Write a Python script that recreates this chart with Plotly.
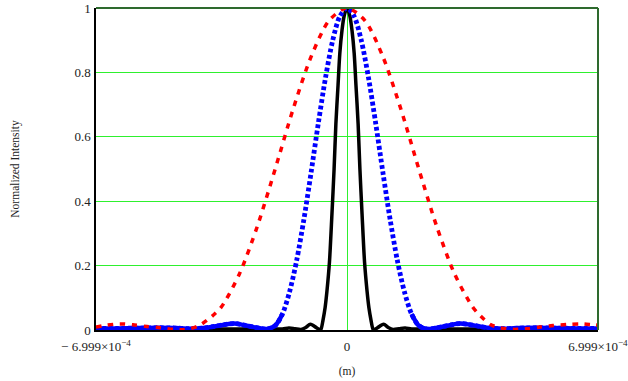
import plotly.graph_objects as go

# ---- data (x in metres, y normalized intensity) ----
x_black = [-7.0e-4, -6.0e-4, -5.0e-4, -4.0e-4, -3.0e-4, -2.4e-4, -2.05e-4, -1.8e-4, -1.62e-4,
           -1.45e-4, -1.28e-4, -1.15e-4, -1.02e-4, -8.5e-5, -7.5e-5, -7.2e-5, -6.7e-5, -6.1e-5,
           -5.6e-5, -4.9e-5, -4.2e-5, -3.6e-5, -3.1e-5, -2.5e-5, -2.0e-5, -1.4e-5, -0.8e-5, 0.0,
           0.8e-5, 1.4e-5, 2.0e-5, 2.5e-5, 3.1e-5, 3.6e-5, 4.2e-5, 4.9e-5, 5.6e-5, 6.1e-5, 6.7e-5,
           7.2e-5, 7.5e-5, 8.5e-5, 1.02e-4, 1.15e-4, 1.28e-4, 1.45e-4, 1.62e-4, 1.8e-4, 2.05e-4,
           2.4e-4, 3.0e-4, 4.0e-4, 5.0e-4, 6.0e-4, 7.0e-4]
y_black = [0.003, 0.003, 0.003, 0.003, 0.003, 0.004, 0.003, 0.003, 0.006,
           0.004, 0.002, 0.008, 0.018, 0.007, 0.0, 0.004, 0.03, 0.07,
           0.12, 0.21, 0.36, 0.50, 0.64, 0.76, 0.86, 0.93, 0.975, 1.0,
           0.975, 0.93, 0.86, 0.76, 0.64, 0.50, 0.36, 0.21, 0.12, 0.07, 0.03,
           0.004, 0.0, 0.007, 0.018, 0.008, 0.002, 0.004, 0.006, 0.003, 0.003,
           0.004, 0.003, 0.003, 0.003, 0.003, 0.003]

x_blue = [-7.0e-4, -6.4e-4, -5.8e-4, -5.3e-4, -4.8e-4, -4.4e-4, -4.0e-4, -3.7e-4, -3.4e-4,
          -3.15e-4, -2.9e-4, -2.6e-4, -2.23e-4, -2.0e-4, -1.8e-4, -1.6e-4, -1.4e-4, -1.2e-4,
          -1.0e-4, -0.8e-4, -0.6e-4, -0.4e-4, -0.2e-4, 0.0, 0.2e-4, 0.4e-4, 0.6e-4, 0.8e-4,
          1.0e-4, 1.2e-4, 1.4e-4, 1.6e-4, 1.8e-4, 2.0e-4, 2.23e-4, 2.6e-4, 2.9e-4, 3.15e-4,
          3.4e-4, 3.7e-4, 4.0e-4, 4.4e-4, 4.8e-4, 5.3e-4, 5.8e-4, 6.4e-4, 7.0e-4]
y_blue = [0.005, 0.005, 0.006, 0.007, 0.006, 0.004, 0.006, 0.011, 0.017,
          0.020, 0.016, 0.009, 0.003, 0.014, 0.050, 0.119, 0.218, 0.345,
          0.490, 0.642, 0.783, 0.899, 0.974, 1.0, 0.974, 0.899, 0.783, 0.642,
          0.490, 0.345, 0.218, 0.119, 0.050, 0.014, 0.003, 0.009, 0.016, 0.020,
          0.017, 0.011, 0.006, 0.004, 0.006, 0.007, 0.006, 0.005, 0.005]

x_red = [-7.0e-4, -6.7e-4, -6.33e-4, -5.97e-4, -5.58e-4, -5.2e-4, -4.85e-4, -4.6e-4, -4.35e-4,
         -4.1e-4, -3.74e-4, -3.5e-4, -3.0e-4, -2.5e-4, -2.0e-4, -1.5e-4, -1.0e-4, -0.5e-4, 0.0,
         0.5e-4, 1.0e-4, 1.5e-4, 2.0e-4, 2.5e-4, 3.0e-4, 3.5e-4, 3.74e-4, 4.0e-4, 4.27e-4,
         4.63e-4, 5.02e-4, 5.38e-4, 5.74e-4, 6.13e-4, 6.5e-4, 6.86e-4, 7.0e-4]
y_red = [0.009, 0.015, 0.019, 0.016, 0.011, 0.007, 0.002, 0.001, 0.005,
         0.015, 0.045, 0.072, 0.174, 0.322, 0.501, 0.687, 0.849, 0.961, 1.0,
         0.961, 0.849, 0.687, 0.501, 0.322, 0.174, 0.072, 0.042, 0.017, 0.007,
         0.002, 0.004, 0.009, 0.014, 0.017, 0.019, 0.016, 0.015]

x_ticks = [-6.999e-4, 0.0, 6.999e-4]
x_ticktext = ["\u2212 6.999\u00d710<sup>\u22124</sup>", "0", "6.999\u00d710<sup>\u22124</sup>"]
y_ticks = [0, 0.2, 0.4, 0.6, 0.8, 1.0]
y_ticktext = ["0", "0.2", "0.4", "0.6", "0.8", "1"]

SERIF = "Liberation Serif"
GRID = "#2ef02e"
BORDER = "#2e6a2e"

fig = go.Figure()

fig.add_trace(go.Scatter(x=x_black, y=y_black, mode="lines",
                         line=dict(color="black", width=3.5, shape="spline", smoothing=0.8),
                         showlegend=False, hoverinfo="skip"))

# solid part of the blue trace where its dots merge (flat tails)
tail_x = [xv if abs(xv) >= 1.8e-4 else None for xv in x_blue]
tail_y = [yv if abs(xv) >= 1.8e-4 else None for xv, yv in zip(x_blue, y_blue)]
fig.add_trace(go.Scatter(x=tail_x, y=tail_y, mode="lines", connectgaps=False,
                         line=dict(color="#0000ff", width=4.5, shape="spline", smoothing=0.8),
                         showlegend=False, hoverinfo="skip"))
fig.add_trace(go.Scatter(x=x_blue, y=y_blue, mode="lines",
                         line=dict(color="#0000ff", width=4.8, dash="3.8px,2.6px",
                                   shape="spline", smoothing=0.8),
                         showlegend=False, hoverinfo="skip"))

fig.add_trace(go.Scatter(x=x_red, y=y_red, mode="lines",
                         line=dict(color="#ff0000", width=3.5, dash="5.5px,6.5px",
                                   shape="spline", smoothing=0.8),
                         showlegend=False, hoverinfo="skip"))

fig.update_layout(
    width=628, height=381,
    margin=dict(l=96, r=30, t=8, b=51, autoexpand=False),
    paper_bgcolor="white", plot_bgcolor="white",
    font=dict(family=SERIF, size=12, color="#222222"),
    xaxis=dict(range=[-6.999e-4, 6.999e-4], tickvals=x_ticks, ticktext=x_ticktext,
               showgrid=True, gridcolor=GRID, gridwidth=1.4, zeroline=False,
               showline=True, linecolor="black", linewidth=1.5, automargin=False,
               ticklabeloverflow="allow",
               ticks="outside", ticklen=4, tickcolor="rgba(0,0,0,0)",
               tickfont=dict(family=SERIF, size=13),
               title=dict(text="(m)", font=dict(family=SERIF, size=11.5), standoff=14)),
    yaxis=dict(range=[0, 1], tickvals=y_ticks, ticktext=y_ticktext,
               showgrid=True, gridcolor=GRID, gridwidth=1.4, zeroline=False,
               showline=True, linecolor="black", linewidth=1.5, automargin=False,
               ticklabeloverflow="allow",
               ticks="outside", ticklen=1, tickcolor="rgba(0,0,0,0)",
               tickfont=dict(family=SERIF, size=13),
               title=dict(text="Normalized Intensity", font=dict(family=SERIF, size=11.5),
                          standoff=52)),
    shapes=[
        dict(type="line", xref="paper", yref="paper", x0=0, x1=1, y0=1, y1=1,
             line=dict(color=BORDER, width=2), layer="above"),
        dict(type="line", xref="paper", yref="paper", x0=1, x1=1, y0=0, y1=1,
             line=dict(color=BORDER, width=2), layer="above"),
    ],
)

fig.write_html("out.html")
